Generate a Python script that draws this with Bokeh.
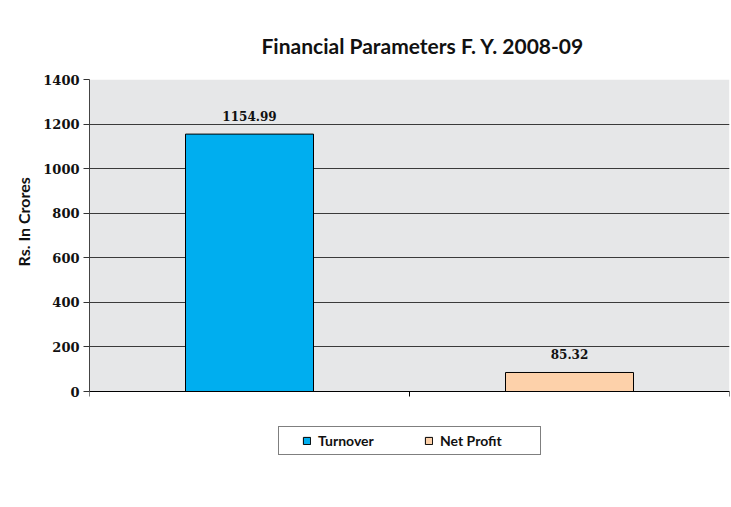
from bokeh.plotting import figure
from bokeh.models import (ColumnDataSource, FixedTicker, Legend, LegendItem,
                          LabelSet, BoxAnnotation, Title, Span)
from bokeh.core.properties import value
from bokeh.embed import file_html
from bokeh.resources import INLINE

categories = ["Turnover", "Net Profit"]
values = [1154.99, 85.32]
value_labels = ["1154.99", "85.32"]
colors = ["#00AEEF", "#FDD1AA"]
y_ticks = [0, 200, 400, 600, 800, 1000, 1200, 1400]
y_max = 1400

W, H = 731, 507
FRAME_TOP, ZERO_PX, FRAME_BOTTOM = 79, 391, 480
px_per_unit = (ZERO_PX - FRAME_TOP) / y_max
y_low = -(FRAME_BOTTOM - ZERO_PX) / px_per_unit

p = figure(width=W, height=H, output_backend="svg", toolbar_location=None,
           x_range=(0, len(categories)), y_range=(y_low, y_max),
           min_border_left=89, min_border_right=2,
           min_border_top=FRAME_TOP, min_border_bottom=H - FRAME_BOTTOM,
           background_fill_color="white", border_fill_color="white")
p.outline_line_color = None

# grey plot area
area = BoxAnnotation(left=0, right=len(categories), bottom=0, top=y_max,
                     fill_color="#E6E7E8", fill_alpha=1, line_color=None,
                     level="image")
p.add_layout(area)

p.title.text = "Financial Parameters F. Y. 2008-09"
p.title.align = "left"
p.title.offset = 172
p.title.text_font = "Lato"
p.title.text_font_style = "bold"
p.title.text_font_size = "21px"
p.title.text_color = "#111111"
p.title.standoff = 43

xs = [i + 0.5 for i in range(len(categories))]
src = ColumnDataSource(dict(x=xs, top=values, color=colors, label=value_labels,
                            name=categories))
bars = p.vbar(x="x", top="top", width=0.4, bottom=0, fill_color="color",
              line_color="black", line_width=1, source=src)

labels = LabelSet(x="x", y="top", text="label", source=src, text_align="center",
                  text_baseline="bottom", y_offset=13,
                  text_font=value("DejaVu Serif"), text_font_style="bold",
                  text_font_size="12px", text_color="#111111")
p.add_layout(labels)

# category axis: line at y = 0 with ticks at the category boundaries
p.xaxis.visible = False
p.xgrid.grid_line_color = None
cat_bounds = list(range(len(categories) + 1))
tick_len = 5 / px_per_unit
p.segment(x0=cat_bounds, y0=[0] * len(cat_bounds), x1=cat_bounds,
          y1=[-tick_len] * len(cat_bounds), line_color="black", line_width=1)
p.add_layout(Span(location=0, dimension="width", line_color="black",
                  line_width=1, level="glyph"))

p.yaxis.bounds = (0, y_max)
p.yaxis.ticker = FixedTicker(ticks=y_ticks)
p.yaxis.major_label_text_font = "DejaVu Serif"
p.yaxis.major_label_text_font_style = "bold"
p.yaxis.major_label_text_font_size = "13px"
p.yaxis.major_label_text_color = "#111111"
p.yaxis.major_label_standoff = 4
p.yaxis.major_tick_in = 0
p.yaxis.major_tick_out = 6
p.yaxis.minor_tick_line_color = None
p.yaxis.axis_line_color = "#444444"
p.yaxis.major_tick_line_color = "#333333"
p.ygrid.grid_line_color = "#3a3a3a"
p.ygrid.grid_line_width = 1

# y-axis title, placed along the 0..1400 part of the axis
ytitle = Title(text="Rs. In Crores", align="left", offset=214,
               text_font="Lato", text_font_style="bold", text_font_size="16px",
               text_color="#111111", standoff=16)
p.add_layout(ytitle, "left")

items = [LegendItem(label=categories[i], renderers=[bars], index=i)
         for i in range(len(categories))]
legend = Legend(items=items, orientation="horizontal", location=(189, 25),
                title=" ", title_location="left", title_standoff=7,
                title_text_font_size="10px",
                border_line_color="black", border_line_width=1,
                background_fill_color="white", background_fill_alpha=1,
                glyph_width=9, glyph_height=9, label_standoff=7,
                label_width=95, spacing=11, padding=5, margin=0,
                label_text_font="Lato", label_text_font_style="bold",
                label_text_font_size="14px", label_text_color="#111111")
p.add_layout(legend, "center")

open("out.html", "w").write(file_html(p, INLINE))
